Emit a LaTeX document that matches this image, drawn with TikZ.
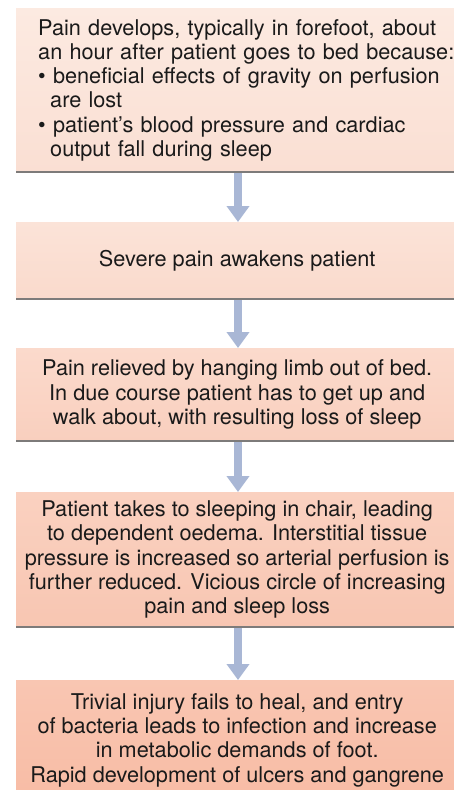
\documentclass[tikz,border=0pt]{standalone}
\usepackage{fontspec}
\setmainfont{TeX Gyre Heros}
\usetikzlibrary{arrows.meta}
\definecolor{c1t}{HTML}{FCEAE1}
\definecolor{c1b}{HTML}{FADFD3}
\definecolor{c2t}{HTML}{FBE3D8}
\definecolor{c2b}{HTML}{FADACC}
\definecolor{c3t}{HTML}{FBDACC}
\definecolor{c3b}{HTML}{F9CFBE}
\definecolor{c4t}{HTML}{FAD1C0}
\definecolor{c4b}{HTML}{F8C6B2}
\definecolor{c5t}{HTML}{F9C6B2}
\definecolor{c5b}{HTML}{F8BCA5}
\definecolor{arrowc}{HTML}{A9B7D5}
\definecolor{shadowc}{HTML}{7D7B7A}
\definecolor{txt}{HTML}{1A1A1A}
\begin{document}
\begin{tikzpicture}[x=1pt,y=-1pt,
  box/.style={rectangle, anchor=north west, inner xsep=0pt, inner ysep=0pt,
    minimum width=442pt, text=txt, font=\fontsize{21.7}{24.3}\selectfont, align=center},
  arr/.style={draw=arrowc, line width=8pt, -{Triangle[width=22pt,length=16pt]}},
  shadowline/.style={draw=shadowc, line width=2pt}]
\useasboundingbox (0,0) rectangle (454,790);
\clip (0,0) rectangle (454,790);
\fill[white] (0,0) rectangle (454,790);
\coordinate (ax) at (238,0);
\node[box, top color=c1t, bottom color=c1b, minimum height=164pt, text width=420pt,
  align=left, inner xsep=22pt] (b1) at (16,8)
  {Pain develops, typically in forefoot, about\\
   an hour after patient goes to bed because:\\
   • beneficial effects of gravity on perfusion\\
   \hspace*{12pt}are lost\\
   • patient’s blood pressure and cardiac\\
   \hspace*{12pt}output fall during sleep};
\node[box, top color=c2t, bottom color=c2b, minimum height=77pt] (b2) at (16,222)
  {Severe pain awakens patient};
\node[box, top color=c3t, bottom color=c3b, minimum height=93pt] (b3) at (16,348)
  {Pain relieved by hanging limb out of bed.\\
   In due course patient has to get up and\\
   walk about, with resulting loss of sleep};
\node[box, top color=c4t, bottom color=c4b, minimum height=135pt] (b4) at (16,492)
  {Patient takes to sleeping in chair, leading\\
   to dependent oedema. Interstitial tissue\\
   pressure is increased so arterial perfusion is\\
   further reduced. Vicious circle of increasing\\
   pain and sleep loss};
\node[box, top color=c5t, bottom color=c5b, minimum height=120pt] (b5) at (16,680)
  {Trivial injury fails to heal, and entry\\
   of bacteria leads to infection and increase\\
   in metabolic demands of foot.\\
   Rapid development of ulcers and gangrene};
\draw[arr] (b1.south -| ax) -- (b2.north -| ax);
\draw[arr] (b2.south -| ax) -- (b3.north -| ax);
\draw[arr] (b3.south -| ax) -- (b4.north -| ax);
\draw[arr] (b4.south -| ax) -- (b5.north -| ax);
\draw[shadowline] (b1.south west) -- (b1.south east);
\draw[shadowline] (b2.south west) -- (b2.south east);
\draw[shadowline] (b3.south west) -- (b3.south east);
\draw[shadowline] (b4.south west) -- (b4.south east);
\end{tikzpicture}
\end{document}
